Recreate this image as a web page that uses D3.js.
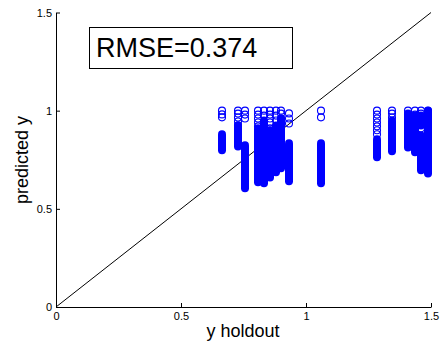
<!DOCTYPE html>
<html>
<head>
<meta charset="utf-8">
<script src="https://cdn.jsdelivr.net/npm/d3@7"></script>
<style>
  body { margin: 0; background: #fff; }
  svg { font-family: "Liberation Sans", Arial, sans-serif; }
</style>
</head>
<body>
<svg id="chart" width="440" height="348"></svg>
<script>
// holdout value of each column of predictions
const holdout = [0.664, 0.728, 0.756, 0.808, 0.832, 0.856, 0.880, 0.900, 0.932,
  1.060, 1.284, 1.344, 1.408, 1.436, 1.460, 1.488];

// single circles that can still be told apart
const hollowPred = [
  [1.0, 0.981, 0.966],
  [1.0, 0.985, 0.965, 0.945, 0.925],
  [1.0, 0.98, 0.96],
  [1.0, 0.98, 0.96, 0.94, 0.92],
  [1.0, 0.975],
  [1.0, 0.98, 0.96, 0.94, 0.91, 0.88],
  [1.0, 0.975, 0.95],
  [1.0, 0.985, 0.96],
  [0.986, 0.96, 0.935],
  [1.0, 0.966],
  [1.0, 0.98, 0.96, 0.94, 0.92, 0.90, 0.88],
  [1.0, 0.985, 0.965],
  [1.0, 0.98],
  [1.0, 0.98],
  [1.0, 0.985, 0.91],
  [1.0]
];

// stretches where the circles pile up into a solid bar [low, high]
const densePred = [
  [[0.798, 0.880]],
  [[0.818, 0.925]],
  [[0.605, 0.824]],
  [[0.636, 0.910]],
  [[0.630, 0.950]],
  [[0.660, 0.900]],
  [[0.686, 0.925]],
  [[0.707, 0.960]],
  [[0.640, 0.834]],
  [[0.630, 0.834]],
  [[0.763, 0.854]],
  [[0.793, 0.950]],
  [[0.813, 0.985]],
  [[0.788, 0.976]],
  [[0.925, 0.975], [0.697, 0.874]],
  [[0.680, 1.0]]
];

const xTicks = [0, 0.5, 1, 1.5];
const yTicks = [0, 0.5, 1, 1.5];
const rmseText = "RMSE=0.374";

const svg = d3.select("#chart");
const x = d3.scaleLinear().domain([0, 1.5]).range([56, 431]);
const y = d3.scaleLinear().domain([0, 1.5]).range([307, 12.5]);

const blue = "#0000ff";

// identity line
svg.append("line")
  .attr("x1", x(0)).attr("y1", y(0))
  .attr("x2", x(1.5)).attr("y2", y(1.5))
  .attr("stroke", "#000")
  .attr("stroke-width", 1);

const cols = svg.append("g").selectAll("g")
  .data(holdout.map((h, i) => ({ h: h, hollow: hollowPred[i], dense: densePred[i] })))
  .enter().append("g");

cols.selectAll("line")
  .data(d => d.dense.map(r => ({ h: d.h, lo: r[0], hi: r[1] })))
  .enter().append("line")
  .attr("x1", d => x(d.h)).attr("x2", d => x(d.h))
  .attr("y1", d => y(d.lo)).attr("y2", d => y(d.hi))
  .attr("stroke", blue)
  .attr("stroke-width", 8)
  .attr("stroke-linecap", "round");

cols.selectAll("circle")
  .data(d => d.hollow.map(v => ({ h: d.h, v: v })))
  .enter().append("circle")
  .attr("cx", d => x(d.h))
  .attr("cy", d => y(d.v))
  .attr("r", 3.5)
  .attr("fill", "none")
  .attr("stroke", blue)
  .attr("stroke-width", 1.1);

// axes, ticks point inward like matlab
const xAxis = svg.append("g")
  .attr("transform", `translate(0,${y(0)})`)
  .call(d3.axisBottom(x).tickValues(xTicks).tickFormat(d3.format("")).tickSizeInner(-4).tickSizeOuter(0).tickPadding(5));

const yAxis = svg.append("g")
  .attr("transform", `translate(${x(0)},0)`)
  .call(d3.axisLeft(y).tickValues(yTicks).tickFormat(d3.format("")).tickSizeInner(-4).tickSizeOuter(0).tickPadding(4));

[xAxis, yAxis].forEach(a => {
  a.attr("font-family", null).attr("font-size", 11);
  a.selectAll("path, line").attr("stroke", "#000");
  a.selectAll("text").attr("fill", "#000");
});

svg.append("text")
  .attr("x", 243).attr("y", 337)
  .attr("text-anchor", "middle")
  .attr("font-size", 18)
  .text("y holdout");

svg.append("text")
  .attr("transform", "translate(28,160) rotate(-90)")
  .attr("text-anchor", "middle")
  .attr("font-size", 18)
  .text("predicted y");

// rmse box
svg.append("rect")
  .attr("x", 89.5).attr("y", 27.5)
  .attr("width", 203).attr("height", 41)
  .attr("fill", "#fff")
  .attr("stroke", "#000")
  .attr("stroke-width", 1);

svg.append("text")
  .attr("x", 96).attr("y", 57)
  .attr("font-size", 27)
  .text(rmseText);
</script>
</body>
</html>
